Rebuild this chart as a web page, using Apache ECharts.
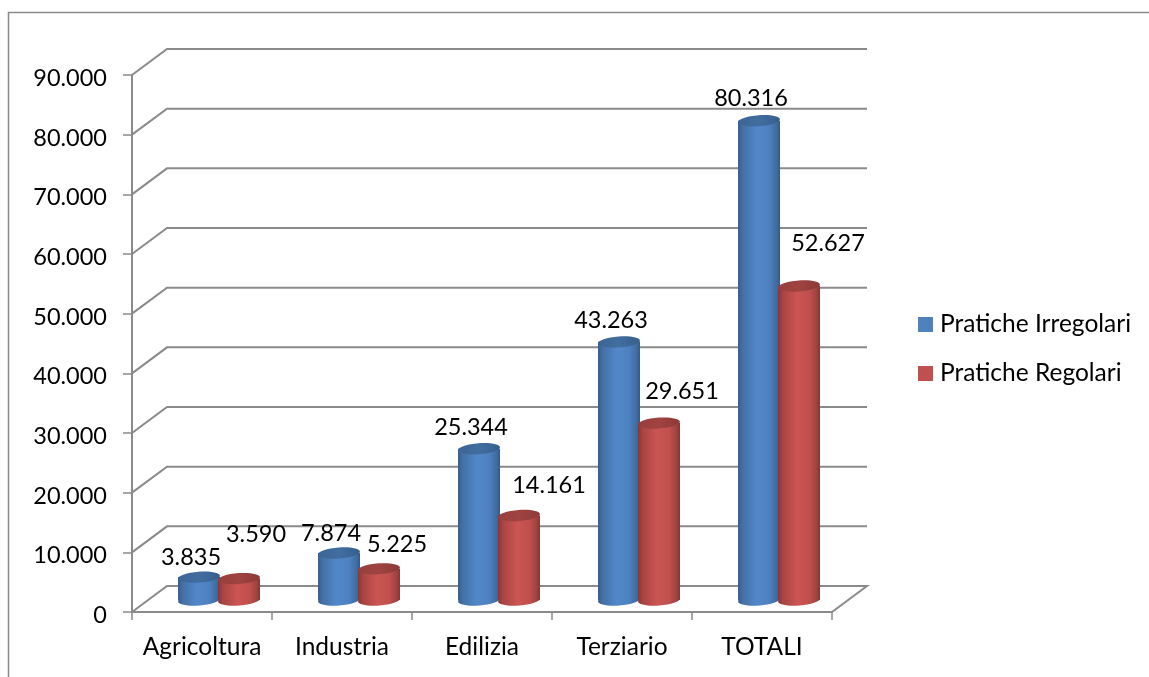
<!DOCTYPE html>
<html><head><meta charset="utf-8">
<style>html,body{margin:0;padding:0;background:#fff}#c{width:1149px;height:677px}</style>
<script src="https://cdn.jsdelivr.net/npm/echarts@6/dist/echarts.min.js"></script>
</head><body><div id="c"></div>
<script>
const categories = ['Agricoltura','Industria','Edilizia','Terziario','TOTALI'];
const irregolari = [3835,7874,25344,43263,80316];
const regolari = [3590,5225,14161,29651,52627];
const yTicks = [0,10000,20000,30000,40000,50000,60000,70000,80000,90000];
const names = ['Pratiche Irregolari','Pratiche Regolari'];
const labelOffsetIrr = [[-8,-20],[-8,-20],[-8,-21],[-8,-21],[-8,-22]];
const labelOffsetReg = [[17,-44],[18,-24],[30,-30],[23,-32],[29,-43]];

const FONT = 'Lato';
const FS_NUM = 23.5;
const FS_TXT = 24.5;
const GRAY = '#8a8a8a';
const DX = 35, DY = -26;
const fmt = v => { const s = String(Math.round(v)); return s.length > 3 ? s.slice(0,-3)+'.'+s.slice(-3) : s; };
const grad = stops => ({type:'linear',x:0,y:0,x2:1,y2:0,colorStops:stops.map((c,i)=>({offset:c[0],color:c[1]}))});
const BLUE_BODY = grad([[0,'#375f8d'],[0.12,'#4471a6'],[0.45,'#5288cb'],[0.75,'#4d80bf'],[0.93,'#3f6a9c'],[1,'#345a85']]);
const BLUE_TOP = grad([[0,'#3c6595'],[0.5,'#416d9f'],[1,'#375f8d']]);
const RED_BODY = grad([[0,'#8c3735'],[0.12,'#a84543'],[0.45,'#cb5552'],[0.75,'#c0504d'],[0.93,'#9c4240'],[1,'#853533']]);
const RED_TOP = grad([[0,'#973e3c'],[0.5,'#a04341'],[1,'#8c3a38']]);

function cyl(body, top, shift, offsets) {
  return function (params, api) {
    const i = api.value(0), v = api.value(1);
    const base = api.coord([i, 0]), head = api.coord([i, v]);
    const cx = base[0] + 17 + shift, rx = 21, ry = 5.5;
    const by = base[1] - 12, ty = head[1] - 12, rot = 0.07;
    const off = offsets[i];
    return {type:'group',children:[
      {type:'ellipse',x:cx,y:by,rotation:rot,shape:{cx:0,cy:0,rx:rx,ry:ry},style:{fill:body}},
      {type:'rect',shape:{x:cx-rx,y:ty,width:rx*2,height:by-ty},style:{fill:body}},
      {type:'ellipse',x:cx,y:ty,rotation:rot,shape:{cx:0,cy:0,rx:rx,ry:ry},style:{fill:top}},
      {type:'text',z2:50,x:cx+off[0],y:ty+off[1],style:{text:fmt(v),font:FS_NUM+'px '+FONT,fill:'#000',align:'center',verticalAlign:'middle'}}
    ]};
  };
}
function wall(params, api) {
  const v = api.value(0), cs = params.coordSys;
  const y = api.coord([0, v])[1], x0 = cs.x, x1 = cs.x + cs.width;
  const pts = [[x0,y],[x0+DX,y+DY],[x1+DX,y+DY]];
  if (v === 0) pts.push([x1,y]);
  return {type:'polyline',shape:{points:pts},style:{stroke:GRAY,lineWidth:2,fill:null}};
}

const chart = echarts.init(document.getElementById('c'), null, {renderer:'canvas'});
chart.setOption({
  animation:false,
  backgroundColor:'#fff',
  textStyle:{fontFamily:FONT},
  grid:{left:132,top:75,width:700,height:537,containLabel:false},
  xAxis:{type:'category',data:categories,
    axisLine:{lineStyle:{color:GRAY,width:2}},
    axisTick:{show:true,interval:0,length:8,lineStyle:{color:GRAY,width:1.5}},
    axisLabel:{color:'#000',fontFamily:FONT,fontSize:FS_TXT,margin:23,interval:0,hideOverlap:false},splitLine:{show:false}},
  yAxis:{type:'value',min:0,max:90000,interval:10000,
    axisLine:{show:true,lineStyle:{color:GRAY,width:2}},
    axisTick:{show:true,length:9,lineStyle:{color:GRAY,width:1.5}},
    axisLabel:{margin:25,formatter:v=>'{n|'+fmt(v)+'}',
      rich:{n:{color:'#000',fontFamily:FONT,fontSize:FS_NUM,padding:[7,0,0,0]}}},splitLine:{show:false}},
  legend:{orient:'vertical',left:918,top:312,padding:0,itemWidth:15,itemHeight:15,itemGap:24,
    icon:'rect',data:names,textStyle:{color:'#000',fontFamily:FONT,fontSize:FS_TXT,lineHeight:24,padding:[0,0,0,2]},selectedMode:false},
  graphic:[{type:'polyline',silent:true,shape:{points:[[8.5,677],[8.5,12.5],[1149,12.5]]},style:{stroke:GRAY,lineWidth:1.5,fill:null}}],
  series:[
    {type:'custom',name:'wall',z:1,data:yTicks.map(v=>[v]),encode:{y:0},renderItem:wall,silent:true,clip:false},
    {type:'custom',name:names[0],z:3,itemStyle:{color:'#4f81bd'},data:irregolari.map((v,i)=>[i,v]),encode:{x:0,y:1},renderItem:cyl(BLUE_BODY,BLUE_TOP,-20,labelOffsetIrr),clip:false},
    {type:'custom',name:names[1],z:4,itemStyle:{color:'#c0504d'},data:regolari.map((v,i)=>[i,v]),encode:{x:0,y:1},renderItem:cyl(RED_BODY,RED_TOP,20,labelOffsetReg),clip:false}
  ]
});
</script></body></html>
